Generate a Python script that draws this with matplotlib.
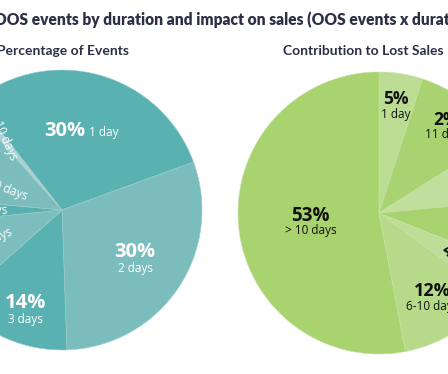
import numpy as np
import matplotlib
matplotlib.use("Agg")
import matplotlib.pyplot as plt

# data
durations = ["1 day", "2 days", "3 days", "4 days", "5 days", "6-10 days", "> 10 days"]

events_share = [30, 30, 14, 10, 3, 12, 1]
events_text = ["30%", "30%", "14%", "10%", "3%", "12%", "1%"]

lost_share = [5, 11, 7.5, 7.5, 4, 12, 53]
lost_text = ["5%", "2%", "8%", "7%", "4%", "12%", "53%"]
lost_days = ["1 day", "11 days", "3 days", "4 days", "5 days", "6-10 days", "> 10 days"]

title = "OOS events by duration and impact on sales (OOS events x duration)"
left_title = "Percentage of Events"
right_title = "Contribution to Lost Sales Impact"

teal = ["#59b1b1", "#7bbdbd", "#5ab1b1", "#7cbebe", "#57afaf", "#7bbdbd", "#a9d2d2"]
green = ["#bcdc94", "#a9d370", "#c0de9c", "#a7d26d", "#bedd98", "#b7da8a", "#a8d36f"]

W, H = 448, 374
fig = plt.figure(figsize=(W / 100, H / 100), dpi=100)


def pie_axes(cx, cy, r):
    # axes box in pixels -> figure fraction
    ax = fig.add_axes([(cx - r) / W, (H - cy - r) / H, 2 * r / W, 2 * r / H])
    ax.set_aspect("equal")
    ax.axis("off")
    return ax


def mid_angles(wedges):
    return [np.deg2rad((w.theta1 + w.theta2) / 2) for w in wedges]


# ---- left pie
ax1 = pie_axes(62, 210, 140)
w1, _ = ax1.pie(events_share, colors=teal, startangle=128, counterclock=False,
                radius=1, wedgeprops=dict(linewidth=0.4, edgecolor="#9fcccc"))
ax1.set_xlim(-1, 1)
ax1.set_ylim(-1, 1)
ang1 = mid_angles(w1)

# big labels
big_r = [0.60, 0.63, 0.76]
big_da = [0, 0, 3]
for i in range(3):
    a = ang1[i] + np.deg2rad(big_da[i])
    x, y = big_r[i] * np.cos(a), big_r[i] * np.sin(a)
    if i == 0:
        ax1.annotate(events_text[i], (x, y), xytext=(0, -5), textcoords="offset points",
                     ha="right", va="baseline", color="white", fontsize=14.5,
                     fontweight="bold", family="Open Sans")
        ax1.annotate(durations[i], (x, y), xytext=(3, -5), textcoords="offset points",
                     ha="left", va="baseline", color="white", fontsize=8.5,
                     family="Open Sans")
    else:
        ax1.annotate(events_text[i], (x, y), xytext=(0, 1.5), textcoords="offset points",
                     ha="center", va="baseline", color="white", fontsize=14.5,
                     fontweight="bold", family="Open Sans")
        ax1.annotate(durations[i], (x, y), xytext=(0, -2), textcoords="offset points",
                     ha="center", va="top", color="white", fontsize=8.5,
                     family="Open Sans")

# small radial labels, reading towards the centre
end_r = [0.39, 0.39, 0.27, 0.50]
end_da = [0, 0, 6, 4]
end_rot = [0, 0, 0, -20]
for k, i in enumerate(range(3, 7)):
    a = ang1[i] + np.deg2rad(end_da[k])
    x, y = end_r[k] * np.cos(a), end_r[k] * np.sin(a)
    rot = np.rad2deg(a) - 180 + end_rot[k]
    ax1.text(x, y, events_text[i] + " " + durations[i], rotation=rot,
             rotation_mode="anchor", ha="right", va="center", color="white",
             fontsize=8.5, family="Open Sans")

# ---- right pie
ax2 = pie_axes(379, 213, 141)
w2, _ = ax2.pie(lost_share, colors=green, startangle=90, counterclock=False,
                radius=1, wedgeprops=dict(linewidth=0.4, edgecolor="#c6e2a6"))
ax2.set_xlim(-1, 1)
ax2.set_ylim(-1, 1)
ang2 = mid_angles(w2)

label_r = {0: 0.77, 1: 0.78, 5: 0.71, 6: 0.49}
label_da = {6: 2.0}
pct_size = {0: 12.5, 1: 12.5, 5: 13, 6: 13.5}
for i, r in label_r.items():
    a = ang2[i] + np.deg2rad(label_da.get(i, 0))
    x, y = r * np.cos(a), r * np.sin(a)
    ax2.annotate(lost_text[i], (x, y), xytext=(0, 1), textcoords="offset points",
                 ha="center", va="baseline", color="#111111", fontsize=pct_size[i],
                 fontweight="bold", family="Open Sans")
    ax2.annotate(lost_days[i], (x, y), xytext=(0, -1.5), textcoords="offset points",
                 ha="center", va="top", color="#111111", fontsize=8.5,
                 family="Open Sans")

# small radial labels, reading outwards
for i in range(2, 5):
    a = ang2[i]
    x, y = 0.52 * np.cos(a), 0.52 * np.sin(a)
    rot = np.rad2deg(a)
    ax2.text(x, y, lost_text[i], rotation=rot, rotation_mode="anchor",
             ha="left", va="center", color="#111111", fontsize=12.5,
             fontweight="bold", family="Open Sans")
    x2, y2 = 0.72 * np.cos(a), 0.72 * np.sin(a)
    ax2.text(x2, y2, lost_days[i], rotation=rot, rotation_mode="anchor",
             ha="left", va="center", color="#111111", fontsize=8.5,
             family="Open Sans")

# ---- titles
fig.text(-6 / W, 1 - 25 / H, title, ha="left", va="baseline", fontsize=11.2,
         fontweight="heavy", color="#2c2f45", family="Lato")
fig.text(-3 / W, 1 - 55 / H, left_title, ha="left", va="baseline", fontsize=10,
         fontweight="bold", color="#2c2f45", family="Lato")
fig.text(283 / W, 1 - 55 / H, right_title, ha="left", va="baseline", fontsize=10,
         fontweight="bold", color="#2c2f45", family="Lato")

fig.savefig("out.png", dpi=100)
